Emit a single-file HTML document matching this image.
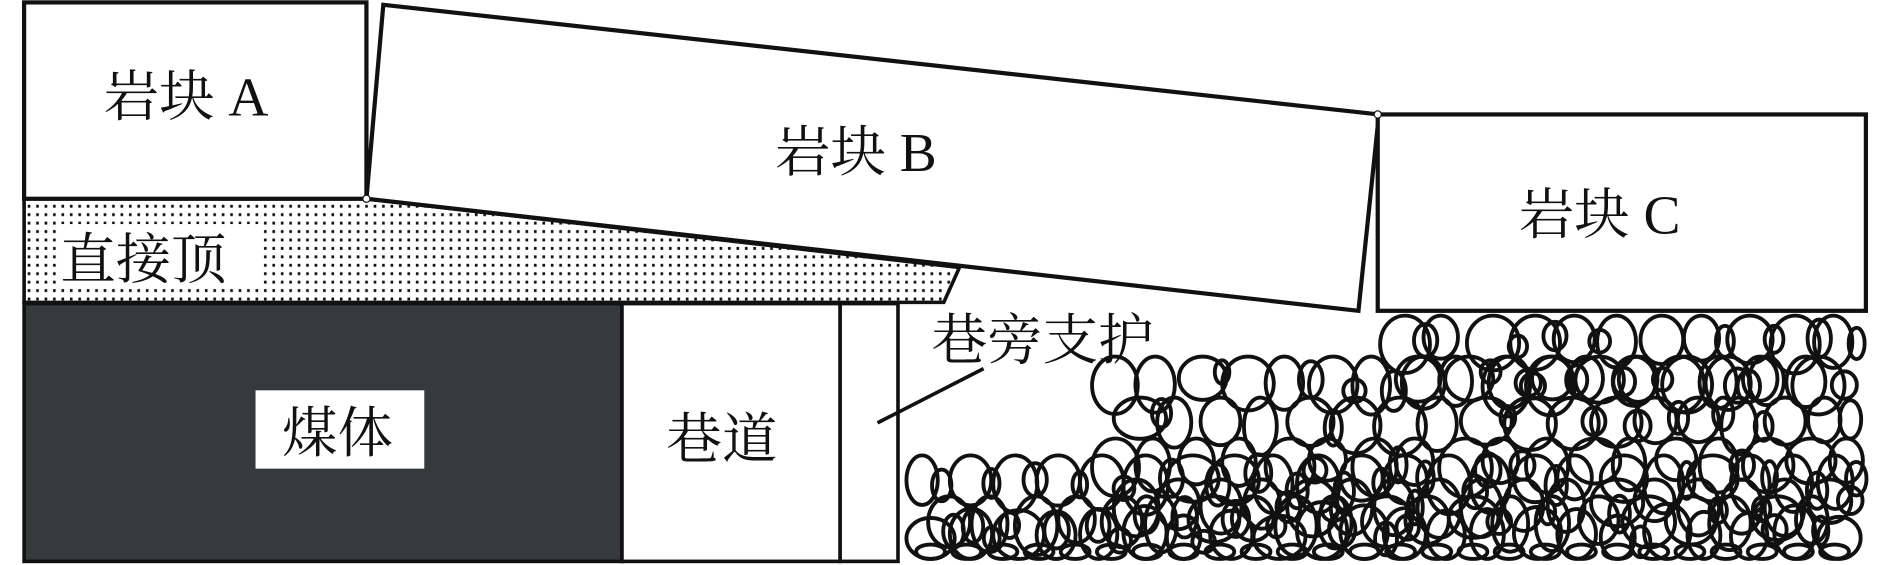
<!DOCTYPE html>
<html><head><meta charset="utf-8"><style>
html,body{margin:0;padding:0;background:#fff;}
svg{display:block;}
text{font-family:"Liberation Serif","Noto Serif CJK SC",serif;fill:#111;}
</style></head><body>
<svg id="s" width="1890" height="565" viewBox="0 0 1568 469" preserveAspectRatio="none" xmlns="http://www.w3.org/2000/svg">
<defs>
<pattern id="dots" width="7" height="7" patternUnits="userSpaceOnUse">
<rect width="7" height="7" fill="#fff"/><rect x="2" y="2" width="2.2" height="2.4" fill="#111"/>
</pattern>
</defs>
<rect width="1568" height="469" fill="#fff"/>
<g id="gravel" fill="none" stroke="#111" stroke-width="3.2"></g>
<polygon points="20,165 304,165 796,222 783,251 20,251" fill="url(#dots)" stroke="#111" stroke-width="3"/>
<rect x="48" y="186" width="170" height="52" fill="#fff"/>
<rect x="20" y="2" width="284" height="163" fill="#fff" stroke="#111" stroke-width="3.5"/>
<polygon points="318,4 1144,95 1127,258 304,165" fill="#fff" stroke="#111" stroke-width="3.5"/>
<rect x="1143" y="95" width="405" height="163" fill="#fff" stroke="#111" stroke-width="3.5"/>
<circle cx="304" cy="165" r="3" fill="#fff" stroke="#111" stroke-width="1"/>
<circle cx="1143" cy="95" r="3" fill="#fff" stroke="#111" stroke-width="1"/>
<rect x="20" y="252" width="496" height="214" fill="#353a3c" stroke="#111" stroke-width="3"/>
<rect x="212" y="324" width="140" height="65" fill="#fff"/>
<rect x="516" y="252" width="181" height="214" fill="#fff" stroke="#111" stroke-width="3"/>
<rect x="697" y="252" width="48" height="214" fill="#fff" stroke="#111" stroke-width="3"/>
<line x1="728" y1="351" x2="816" y2="306" stroke="#111" stroke-width="3"/>
<text x="86" y="96" font-size="46">岩块 A</text>
<text x="643" y="142" font-size="46">岩块 B</text>
<text x="1260" y="194" font-size="46">岩块 C</text>
<text x="50" y="231" font-size="46">直接顶</text>
<text x="234" y="375" font-size="46">煤体</text>
<text x="553" y="380" font-size="46">巷道</text>
<text x="773" y="298" font-size="46">巷旁支护</text>
</svg>
<script>
var g=document.getElementById('gravel');var seed=11;
function r(){seed=(seed*16807)%2147483647;return seed/2147483647;}
function el(cx,cy,rx,ry){var e=document.createElementNS('http://www.w3.org/2000/svg','ellipse');
 e.setAttribute('cx',cx);e.setAttribute('cy',cy);e.setAttribute('rx',rx);e.setAttribute('ry',ry);g.appendChild(e);}
function add(x0,x1,y0,y1){
 for(var y=y0,row=0;y<y1;y+=34,row++){for(var x=x0+(row%2)*18;x<x1;x+=36){
  var rx=13+r()*9, ry=17+r()*8;
  var cx=x+rx, cy=y+ry;
  if(cx+rx>x1) continue;
  if(cy+ry>464) cy=464-ry;
  el(cx,cy,rx,ry);
  if(r()<0.6) el(cx+16+r()*6,cy-6+r()*12,6+r()*5,9+r()*8);}}
}
add(752,1548,378,466);
add(906,1548,296,400);
add(1145,1548,262,310);
for(var x=760;x<1540;x+=30) el(x+12,458,12,6);
</script>
</body></html>
